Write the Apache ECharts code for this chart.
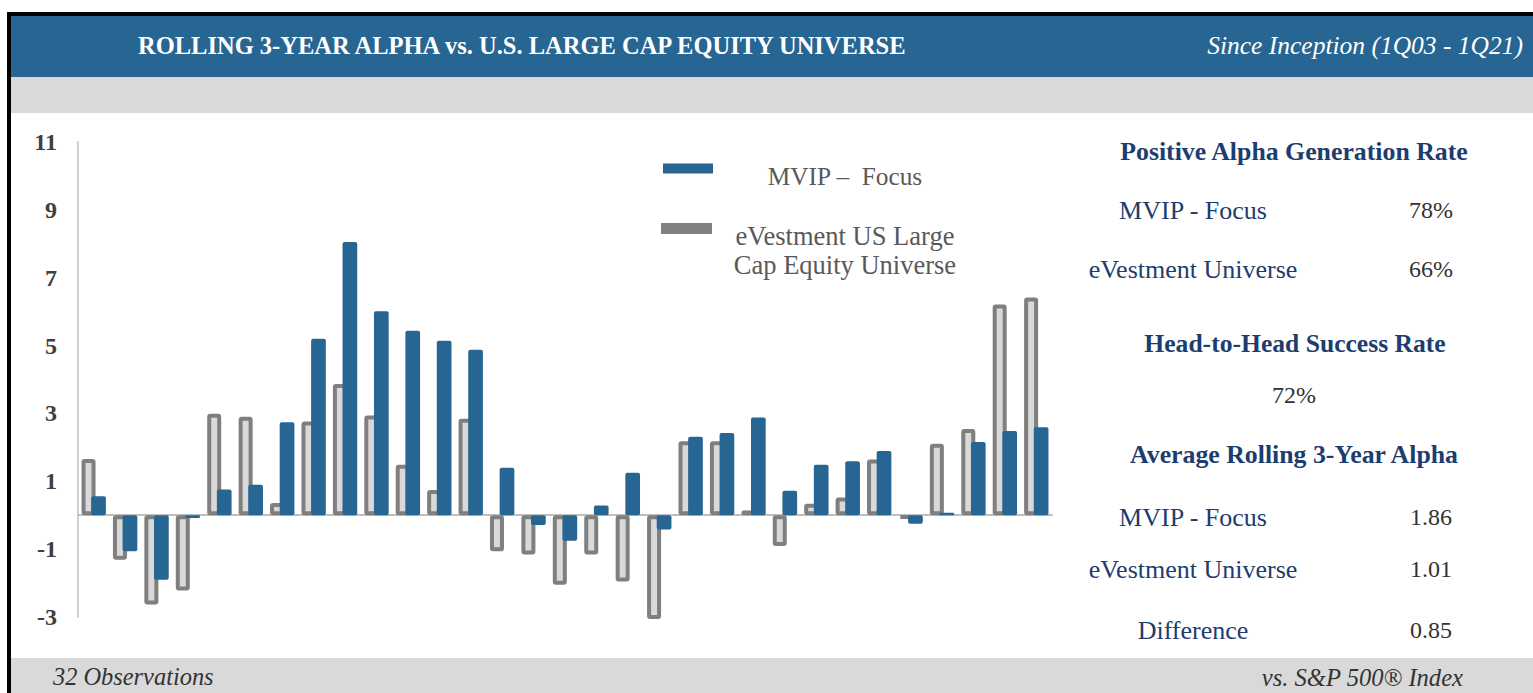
<!DOCTYPE html>
<html>
<head>
<meta charset="utf-8">
<script src="https://cdn.jsdelivr.net/npm/echarts@6/dist/echarts.min.js"></script>
<style>
  html, body { margin: 0; padding: 0; background: #ffffff; }
  #chart { width: 1533px; height: 693px; }
</style>
</head>
<body>
<div id="chart"></div>
<script>
// ---- data ----
const categories = ['1','2','3','4','5','6','7','8','9','10','11','12','13','14','15','16','17','18','19','20','21','22','23','24','25','26','27','28','29','30','31'];
const universeValues = [1.66,-1.31,-2.63,-2.22,2.99,2.90,0.36,2.76,3.87,2.94,1.49,0.74,2.84,-1.06,-1.16,-2.05,-1.16,-1.95,-3.50,2.18,2.18,0.14,-0.91,0.34,0.52,1.64,-0.11,2.11,2.54,6.21,6.42];
const focusValues = [0.56,-1.06,-1.90,-0.08,0.76,0.90,2.74,5.20,8.05,6.01,5.44,5.14,4.88,1.40,-0.29,-0.75,0.29,1.25,-0.42,2.31,2.42,2.88,0.72,1.49,1.59,1.89,-0.25,0.07,2.16,2.48,2.59];
const seriesNames = ['MVIP \u2013  Focus', 'eVestment US Large Cap Equity Universe'];
const legendLabels = { 'MVIP \u2013  Focus': ['MVIP \u2013  Focus'], 'eVestment US Large Cap Equity Universe': ['eVestment US Large', 'Cap Equity Universe'] };
const yTicks = { min: -3, max: 11, interval: 2 };
const titleText = 'ROLLING 3-YEAR ALPHA vs. U.S. LARGE CAP EQUITY UNIVERSE';
const subtitleText = 'Since Inception (1Q03 - 1Q21)';
const footLeft = '32 Observations';
const footRight = 'vs. S&P 500\u00AE Index';
const panelHeads = ['Positive Alpha Generation Rate', 'Head-to-Head Success Rate', 'Average Rolling 3-Year Alpha'];
const rateLabels = ['MVIP - Focus', 'eVestment Universe'];
const rateValues = ['78%', '66%'];
const headToHead = '72%';
const avgLabels = ['MVIP - Focus', 'eVestment Universe', 'Difference'];
const avgValues = ['1.86', '1.01', '0.85'];

// ---- styles ----
const SERIF = '"Liberation Serif", "DejaVu Serif", serif';
const BLUE = '#276592';
const NAVY = '#1c3d6e';
const GRAYBAND = '#d9d9d9';

const chart = echarts.init(document.getElementById('chart'), null, { renderer: 'svg' });

function txt(x, y, text, opts) {
  return {
    type: 'text', x: x, y: y, silent: true,
    style: Object.assign({
      text: text, fontFamily: SERIF, fontSize: 26, fill: NAVY,
      align: 'center', verticalAlign: 'middle'
    }, opts || {})
  };
}

const graphics = [
  // frame
  { type: 'rect', shape: { x: 7, y: 12, width: 1526, height: 681 }, style: { fill: '#000' }, silent: true, z: -10 },
  { type: 'rect', shape: { x: 11, y: 16, width: 1522, height: 677 }, style: { fill: '#fff' }, silent: true, z: -9 },
  { type: 'rect', shape: { x: 11, y: 16, width: 1522, height: 61 }, style: { fill: BLUE }, silent: true, z: -8 },
  { type: 'rect', shape: { x: 11, y: 77, width: 1522, height: 36 }, style: { fill: GRAYBAND }, silent: true, z: -8 },
  { type: 'rect', shape: { x: 11, y: 658, width: 1522, height: 35 }, style: { fill: GRAYBAND }, silent: true, z: -8 },
  txt(138, 45, titleText, { fill: '#fff', fontWeight: 'bold', fontSize: 24.5, align: 'left' }),
  txt(1523, 45, subtitleText, { fill: '#fff', fontStyle: 'italic', fontSize: 25.5, align: 'right' }),
  txt(53, 676, footLeft, { fill: '#333', fontStyle: 'italic', fontSize: 24.4, align: 'left' }),
  txt(1463, 677, footRight, { fill: '#333', fontStyle: 'italic', fontSize: 24.6, align: 'right' }),
  // right panel
  txt(1294, 151, panelHeads[0], { fontWeight: 'bold', fontSize: 25.8 }),
  txt(1193, 210, rateLabels[0]),
  txt(1431, 210, rateValues[0], { fill: '#333', fontSize: 24 }),
  txt(1193, 269, rateLabels[1]),
  txt(1431, 269, rateValues[1], { fill: '#333', fontSize: 24 }),
  txt(1295, 343, panelHeads[1], { fontWeight: 'bold', fontSize: 25.6 }),
  txt(1294, 395, headToHead, { fill: '#333', fontSize: 24 }),
  txt(1294, 454, panelHeads[2], { fontWeight: 'bold', fontSize: 25.8 }),
  txt(1193, 517, avgLabels[0]),
  txt(1431, 517, avgValues[0], { fill: '#333', fontSize: 24 }),
  txt(1193, 569, avgLabels[1]),
  txt(1431, 569, avgValues[1], { fill: '#333', fontSize: 24 }),
  txt(1193, 630, avgLabels[2]),
  txt(1431, 630, avgValues[2], { fill: '#333', fontSize: 24 })
];

function legendFormatter(name) {
  return legendLabels[name].map(l => '{t|' + l + '}').join('\n');
}

const option = {
  animation: false,
  backgroundColor: '#fff',
  graphic: { elements: graphics },
  legend: [
    {
      data: [{ name: seriesNames[0], itemStyle: { color: BLUE, borderWidth: 0 } }],
      left: 663, top: 149, padding: 0, icon: 'rect', itemWidth: 50, itemHeight: 10,
      selectedMode: false, formatter: legendFormatter,
      textStyle: { rich: { t: { width: 254, align: 'center', fontSize: 25.3, lineHeight: 26, fontFamily: SERIF, color: '#595959', padding: [14, 0, 0, 0] } } }
    },
    {
      data: [{ name: seriesNames[1], itemStyle: { color: '#808080', borderWidth: 0 } }],
      left: 661, top: 179, padding: 0, icon: 'rect', itemWidth: 51, itemHeight: 11,
      selectedMode: false, formatter: legendFormatter,
      textStyle: { rich: { t: { width: 256, align: 'center', fontSize: 26.5, lineHeight: 29, fontFamily: SERIF, color: '#595959', padding: [43, 0, 0, 0] } } }
    }
  ],
  grid: { left: 78, top: 142, width: 974, bottom: 76, containLabel: false },
  xAxis: {
    type: 'category', data: categories, boundaryGap: true,
    axisLine: { show: true, onZero: true, lineStyle: { color: '#bfbfbf', width: 2 } },
    axisTick: { show: false }, axisLabel: { show: false }, splitLine: { show: false }
  },
  yAxis: {
    type: 'value', min: yTicks.min, max: yTicks.max, interval: yTicks.interval,
    axisLine: { show: true, lineStyle: { color: '#cfcfcf', width: 2 } },
    axisTick: { show: false }, splitLine: { show: false },
    axisLabel: { margin: 21, fontFamily: SERIF, fontWeight: 'bold', fontSize: 24, color: '#404040' }
  },
  series: [
    {
      name: seriesNames[1], type: 'bar', data: universeValues, barWidth: 14, barGap: '-31%',
      itemStyle: { color: '#d9d9d9', borderColor: '#7f7f7f', borderWidth: 4, borderRadius: 1 },
      z: 2
    },
    {
      name: seriesNames[0], type: 'bar', data: focusValues, barWidth: 14.7,
      itemStyle: { color: BLUE, borderRadius: 2 },
      z: 3
    }
  ]
};
chart.setOption(option);
</script>
</body>
</html>
